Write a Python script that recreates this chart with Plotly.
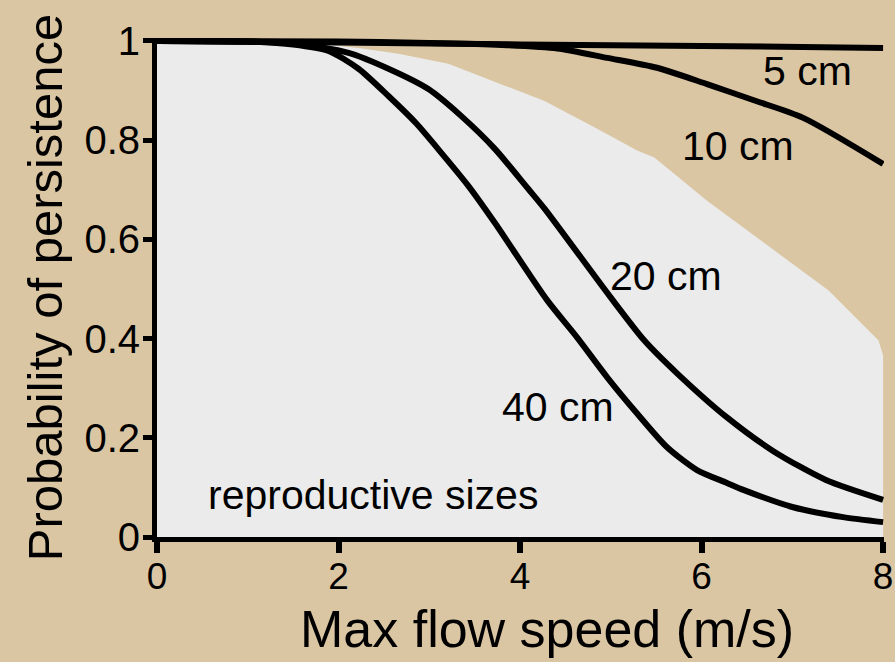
import plotly.graph_objects as go

# Max flow speed (m/s) at which each curve was sampled, and persistence probability
speed_5 = [0, 2, 4, 6, 8]
prob_5 = [1.0, 0.997, 0.993, 0.99, 0.986]

speed_10 = [0, 2, 3.0, 3.8, 4.41, 4.96, 5.51, 6.06, 6.60, 7.12, 8.0]
prob_10 = [1.0, 0.999, 0.996, 0.992, 0.985, 0.966, 0.946, 0.913, 0.879, 0.845, 0.752]

speed_20 = [0, 1.5, 2.11, 2.55, 2.99, 3.35, 3.72, 4.09, 4.27, 4.99, 5.37, 5.73, 6.28, 6.80, 7.37, 8.0]
prob_20 = [1.0, 0.995, 0.976, 0.944, 0.903, 0.849, 0.783, 0.702, 0.662, 0.485, 0.396, 0.330, 0.241, 0.172, 0.115, 0.075]

speed_40 = [0, 1.0, 1.5, 1.89, 2.22, 2.55, 2.85, 3.13, 3.43, 3.72, 4.30, 4.63, 4.96, 5.29, 5.62, 5.95, 6.28, 6.46, 7.01, 7.56, 8.0]
prob_40 = [1.0, 0.999, 0.993, 0.980, 0.944, 0.889, 0.835, 0.775, 0.708, 0.634, 0.477, 0.402, 0.322, 0.249, 0.181, 0.135, 0.109, 0.095, 0.060, 0.040, 0.030]

# Outline of the shaded "reproductive sizes" region
region_speed = [0, 1.5, 2.22, 2.66, 3.21, 4.27, 4.85, 5.29, 5.48, 6.06, 7.40, 7.95, 8.0, 8.0, 0]
region_prob = [1.0, 1.0, 0.986, 0.974, 0.954, 0.879, 0.823, 0.779, 0.765, 0.678, 0.497, 0.396, 0.366, 0.0, 0.0]

# Curve labels
label_text = ["5 cm", "10 cm", "20 cm", "40 cm", "reproductive sizes"]
label_x = [7.17, 6.40, 5.61, 4.42, 2.38]
label_y = [0.94, 0.789, 0.527, 0.262, 0.085]

x_ticks = [0, 2, 4, 6, 8]
y_ticks = [0, 0.2, 0.4, 0.6, 0.8, 1]
y_tick_text = ["0", "0.2", "0.4", "0.6", "0.8", "1"]

FONT = "Liberation Sans, Arial, sans-serif"
BG = "#dbc6a3"

fig = go.Figure()

fig.add_trace(go.Scatter(
    x=region_speed, y=region_prob, mode="lines", fill="toself",
    fillcolor="#ebebeb", line=dict(width=0, color="#ebebeb"),
    hoverinfo="skip", showlegend=False,
))

for sx, sy in [(speed_5, prob_5), (speed_10, prob_10), (speed_20, prob_20), (speed_40, prob_40)]:
    fig.add_trace(go.Scatter(
        x=sx, y=sy, mode="lines",
        line=dict(color="black", width=6, shape="spline", smoothing=0.7),
        showlegend=False,
    ))

for t, lx, ly in zip(label_text, label_x, label_y):
    fig.add_annotation(x=lx, y=ly, text=t, showarrow=False,
                       font=dict(family=FONT, size=41, color="black"),
                       xanchor="center", yanchor="middle")

# x-axis title, placed as paper annotation
fig.add_annotation(x=0.537, y=-0.184, xref="paper", yref="paper",
                   text="Max flow speed (m/s)", showarrow=False,
                   font=dict(family=FONT, size=52, color="black"),
                   xanchor="center", yanchor="middle", borderpad=0)

fig.update_layout(
    width=895, height=662,
    margin=dict(l=157, r=11, t=38, b=125, autoexpand=False),
    paper_bgcolor=BG, plot_bgcolor="rgba(0,0,0,0)",
    font=dict(family=FONT, color="black"),
    xaxis=dict(
        range=[0, 8.01], tickvals=x_ticks, ticktext=[str(v) for v in x_ticks],
        showgrid=False, zeroline=False, automargin=False,
        showline=True, linecolor="black", linewidth=5,
        ticks="outside", ticklen=11, tickwidth=6, tickcolor="black",
        tickfont=dict(size=37, family=FONT),
        ticklabeloverflow="allow", ticklabelstandoff=-8,
    ),
    yaxis=dict(
        range=[0, 1.006], tickvals=y_ticks, ticktext=y_tick_text,
        showgrid=False, zeroline=False, automargin=False,
        showline=True, linecolor="black", linewidth=5,
        ticks="outside", ticklen=9, tickwidth=5, tickcolor="black",
        tickfont=dict(size=40, family=FONT),
        ticklabelstandoff=-5,
        title=dict(text="Probability of persistence", font=dict(size=49, family=FONT), standoff=8),
    ),
)

fig.write_html("out.html")
